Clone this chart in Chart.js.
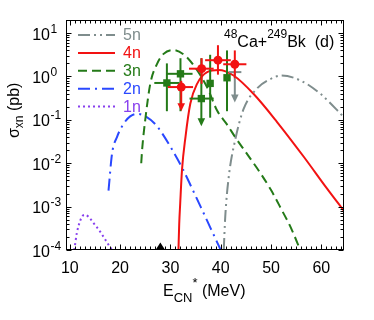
<!DOCTYPE html>
<html><head><meta charset="utf-8">
<script src="https://cdn.jsdelivr.net/npm/chart.js@4/dist/chart.umd.min.js"></script>
<style>html,body{margin:0;padding:0;background:#fff}canvas{display:block}</style>
</head><body>
<canvas id="c" width="374" height="320"></canvas>
<script>
// ---- theoretical curves (E* in MeV, sigma in pb) ----
const curve5nE = [40.6, 40.9, 41.6, 42.9, 44.55, 47.2, 49.9, 52.0, 55.8, 59.8, 64.5];
const curve5nS = [1.0e-4, 5.89e-4, 4.90e-3, 3.55e-2, 0.178, 0.525, 0.871, 1.05, 0.813, 0.398, 0.115];
const curve4nE = [31.6, 31.75, 31.95, 32.3, 33.0, 33.95, 35.3, 37.3, 39.6, 42.55, 46.5, 51.2, 56.5, 61.1, 64.5];
const curve4nS = [1.0e-4, 3.98e-4, 1.20e-3, 6.92e-3, 4.07e-2, 0.234, 0.676, 1.26, 1.41, 1.05, 0.398, 8.91e-2, 1.41e-2, 2.63e-3, 7.94e-4];
const curve3nE = [24.2, 24.4, 25.0, 26.0, 27.35, 28.65, 30.6, 32.9, 34.9, 37.3, 39.25, 41.2, 43.0, 45.0, 47.9, 50.0, 52.0, 54.0, 55.8];
const curve3nS = [1.0e-2, 2.19e-2, 0.1, 0.676, 1.95, 3.31, 4.07, 3.02, 1.62, 0.562, 0.166, 7.94e-2, 3.80e-2, 1.78e-2, 5.89e-3, 2.40e-3, 8.91e-4, 3.16e-4, 1.0e-4];
const curve2nE = [17.7, 18.4, 19.4, 20.7, 22.0, 23.4, 25.3, 27.0, 28.3, 30.3, 32.4, 34.3, 36.0, 38.0, 40.0];
const curve2nS = [2.34e-3, 1.66e-2, 4.07e-2, 8.13e-2, 0.120, 0.138, 0.115, 7.94e-2, 5.01e-2, 2.09e-2, 7.59e-3, 2.63e-3, 1.0e-3, 3.16e-4, 1.0e-4];
const curve1nE = [10.9, 11.4, 12.0, 12.5, 13.1, 14.0, 15.0, 16.0, 17.0, 18.0, 18.4];
const curve1nS = [1.0e-4, 2.45e-4, 4.47e-4, 6.03e-4, 6.46e-4, 5.37e-4, 3.80e-4, 2.69e-4, 1.78e-4, 1.17e-4, 1.0e-4];

// ---- experimental data ----
const exp3nE   = [29.3, 32.0, 36.15, 37.9, 41.25];
const exp3nS   = [0.708, 1.15, 0.309, 0.692, 0.933];
const exp3nElo = [26.8, 29.3, 33.8, null, null];
const exp3nEhi = [31.8, 34.4, 38.6, null, null];
const exp3nSlo = [0.158, 0.158, 0.0708, 0.112, 0.158];
const exp3nShi = [2.0, 2.63, 2.63, 3.16, 3.98];
const exp3nArrow = [false, false, true, false, false];

const exp4nE   = [32.15, 36.2, 39.45, 42.8];
const exp4nS   = [0.569, 1.51, 2.37, 1.91];
const exp4nElo = [29.5, 33.7, 36.9, 40.5];
const exp4nEhi = [34.5, 38.6, 42.0, 45.1];
const exp4nSlo = [0.158, 0.676, 1.10, 0.912];
const exp4nShi = [0.794, 2.63, 5.25, 3.98];
const exp4nArrow = [true, false, false, false];

const lim5nE   = [42.8];
const lim5nS   = [1.26];
const lim5nElo = [41.6];
const lim5nEhi = [44.1];
const lim5nSlo = [0.251];
const lim5nShi = [1.26];
const lim5nArrow = [true];

const barrierE = 28;

// ---- axis / labels ----
const xTickValues = [10, 20, 30, 40, 50, 60];
const yTickExponents = [-4, -3, -2, -1, 0, 1];
const legendLabels = ['5n', '4n', '3n', '2n', '1n'];

const GRAY = '#7f8d8d', RED = '#f21212', GREEN = '#247a18', BLUE = '#2a48ff', PURPLE = '#8840ee';
const FONT = '"Liberation Sans", Arial, sans-serif';

const pts = (E, S) => E.map((e, i) => ({x: e, y: S[i]}));

const curveStyles = [
  {label: legendLabels[0], E: curve5nE, S: curve5nS, color: GRAY, dash: [12, 4, 2, 4, 2, 4]},
  {label: legendLabels[1], E: curve4nE, S: curve4nS, color: RED, dash: []},
  {label: legendLabels[2], E: curve3nE, S: curve3nS, color: GREEN, dash: [9, 5]},
  {label: legendLabels[3], E: curve2nE, S: curve2nS, color: BLUE, dash: [12, 5, 2, 5]},
  {label: legendLabels[4], E: curve1nE, S: curve1nS, color: PURPLE, dash: [2, 3]},
];

const datasets = [];
datasets.push({type: 'scatter', data: pts(exp4nE, exp4nS), pointStyle: 'circle', pointRadius: 4.5,
  backgroundColor: RED, borderColor: RED, borderWidth: 0, order: 0,
  err: {E: exp4nE, S: exp4nS, Elo: exp4nElo, Ehi: exp4nEhi, Slo: exp4nSlo, Shi: exp4nShi, arrow: exp4nArrow}});
datasets.push({type: 'scatter', data: pts(exp3nE, exp3nS), pointStyle: 'rect', pointRadius: 5.2,
  backgroundColor: GREEN, borderColor: GREEN, borderWidth: 0, order: 1,
  err: {E: exp3nE, S: exp3nS, Elo: exp3nElo, Ehi: exp3nEhi, Slo: exp3nSlo, Shi: exp3nShi, arrow: exp3nArrow}});
datasets.push({type: 'scatter', data: pts(lim5nE, lim5nS), pointRadius: 0,
  backgroundColor: GRAY, borderColor: GRAY, order: 2,
  err: {E: lim5nE, S: lim5nS, Elo: lim5nElo, Ehi: lim5nEhi, Slo: lim5nSlo, Shi: lim5nShi, arrow: lim5nArrow}});
curveStyles.forEach((c, i) => datasets.push({
  type: 'line', data: pts(c.E, c.S), borderColor: c.color, borderDash: c.dash, borderWidth: 2,
  pointRadius: 0, fill: false, cubicInterpolationMode: 'monotone', borderCapStyle: 'butt', order: 5 + i
}));

function drawErr(chart, e, color) {
  const {ctx, chartArea: a} = chart;
  const x = chart.scales.x, y = chart.scales.y;
  ctx.save();
  ctx.beginPath(); ctx.rect(a.left, a.top, a.right - a.left, a.bottom - a.top); ctx.clip();
  ctx.strokeStyle = color; ctx.fillStyle = color; ctx.lineWidth = 2; ctx.setLineDash([]);
  for (let i = 0; i < e.E.length; i++) {
    const px = x.getPixelForValue(e.E[i]), py = y.getPixelForValue(e.S[i]);
    if (e.Elo[i] != null) {
      ctx.beginPath();
      ctx.moveTo(x.getPixelForValue(e.Elo[i]), py);
      ctx.lineTo(x.getPixelForValue(e.Ehi[i]), py);
      ctx.stroke();
    }
    const yt = y.getPixelForValue(e.Shi[i]), yb = y.getPixelForValue(e.Slo[i]);
    ctx.beginPath();
    ctx.moveTo(px, yt);
    ctx.lineTo(px, e.arrow[i] ? yb - 6 : yb);
    ctx.stroke();
    if (e.arrow[i]) {
      ctx.beginPath();
      ctx.moveTo(px - 3.8, yb - 8);
      ctx.lineTo(px + 3.8, yb - 8);
      ctx.lineTo(px, yb);
      ctx.closePath(); ctx.fill();
    }
  }
  ctx.restore();
}

function drawRuns(ctx, runs, x, baseY) {
  // runs: [text, size, dy]
  let cx = x;
  for (const [t, size, dy] of runs) {
    ctx.font = size + 'px ' + FONT;
    ctx.fillText(t, cx, baseY + dy);
    cx += ctx.measureText(t).width;
  }
  return cx;
}

const decor = {
  id: 'decor',
  beforeDatasetDraw(chart, args) {
    const ds = chart.data.datasets[args.index];
    if (ds.err) drawErr(chart, ds.err, ds.borderColor);
  },
  afterDraw(chart) {
    const {ctx, chartArea: a} = chart;
    const x = chart.scales.x, y = chart.scales.y;
    ctx.save();
    // frame
    ctx.strokeStyle = '#000'; ctx.lineWidth = 1; ctx.setLineDash([]);
    const L = Math.round(a.left) + 0.5, R = Math.round(a.right) - 0.5, T = Math.round(a.top) + 0.5, B = Math.round(a.bottom) - 0.5;
    ctx.strokeRect(L, T, R - L, B - T);
    ctx.beginPath();
    // x ticks
    for (let v = Math.ceil(x.min); v <= x.max; v++) {
      const px = Math.round(x.getPixelForValue(v)) + 0.5;
      const len = xTickValues.includes(v) ? 5 : 3;
      ctx.moveTo(px, B); ctx.lineTo(px, B - len);
      ctx.moveTo(px, T); ctx.lineTo(px, T + len);
    }
    // y ticks
    for (let k = -4; k <= 1; k++) {
      for (let m = 1; m <= 9; m++) {
        const v = m * Math.pow(10, k);
        if (v < y.min || v > y.max) continue;
        const py = Math.round(y.getPixelForValue(v)) + 0.5;
        const len = m === 1 ? 5 : 3;
        ctx.moveTo(L, py); ctx.lineTo(L + len, py);
        ctx.moveTo(R, py); ctx.lineTo(R - len, py);
      }
    }
    ctx.stroke();

    // barrier triangle
    const bx = x.getPixelForValue(barrierE);
    ctx.fillStyle = '#000';
    ctx.beginPath(); ctx.moveTo(bx - 4.5, B); ctx.lineTo(bx + 4.5, B); ctx.lineTo(bx, B - 7); ctx.closePath(); ctx.fill();

    // tick labels
    ctx.fillStyle = '#000'; ctx.textBaseline = 'alphabetic';
    ctx.font = '16px ' + FONT; ctx.textAlign = 'center';
    for (const v of xTickValues) ctx.fillText(String(v), x.getPixelForValue(v), 273);
    for (const k of yTickExponents) {
      const py = y.getPixelForValue(Math.pow(10, k));
      ctx.font = '16px ' + FONT; ctx.textAlign = 'right';
      ctx.fillText('10', 50, py + 6.5);
      ctx.font = '12px ' + FONT; ctx.textAlign = 'left';
      ctx.fillText(String(k), 50.5, py - 0.5);
    }

    // x title
    ctx.textAlign = 'left';
    drawRuns(ctx, [['E', 16, 0], ['CN', 13, 5.5], ['*', 13, -9], [' (MeV)', 16, 0]], 163, 296);

    // y title (rotated)
    ctx.save();
    ctx.translate(19, 138); ctx.rotate(-Math.PI / 2);
    drawRuns(ctx, [['σ', 16, 0], ['xn', 12, 4], [' (pb)', 16, 0]], 0, 0);
    ctx.restore();

    // reaction label
    drawRuns(ctx, [['48', 12, -8.5], ['Ca+', 16, 0], ['249', 12, -8.5], ['Bk', 16, 0], ['  (d)', 16, 0]], 224, 46.5);

    // legend
    curveStyles.forEach((c, i) => {
      const ly = 35 + i * 17.9;
      ctx.strokeStyle = c.color; ctx.lineWidth = 2; ctx.setLineDash(c.dash); ctx.lineCap = 'butt';
      ctx.beginPath(); ctx.moveTo(78, ly); ctx.lineTo(115, ly); ctx.stroke();
      ctx.fillStyle = c.color; ctx.font = '16px ' + FONT; ctx.textAlign = 'left'; ctx.textBaseline = 'middle';
      ctx.fillText(c.label, 123, ly + 0.5);
    });
    ctx.restore();
  }
};

new Chart(document.getElementById('c'), {
  data: {datasets},
  options: {
    responsive: false, animation: false, events: [], devicePixelRatio: 1,
    layout: {padding: {left: 0, right: 30, top: 20, bottom: 0}},
    plugins: {legend: {display: false}, tooltip: {enabled: false}},
    scales: {
      x: {type: 'linear', min: 9.25, max: 64.5, grid: {display: false}, border: {display: false},
          ticks: {display: false}, afterFit: s => { s.height = 70; }},
      y: {type: 'logarithmic', min: 1e-4, max: 20, grid: {display: false}, border: {display: false},
          ticks: {display: false}, afterFit: s => { s.width = 66; }}
    }
  },
  plugins: [decor]
});
</script>
</body></html>
